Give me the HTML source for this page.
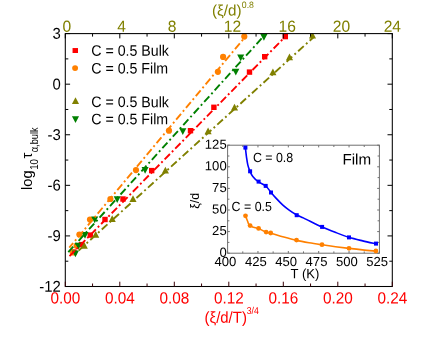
<!DOCTYPE html>
<html lang="en"><head><meta charset="utf-8"><title>Plot</title>
<style>html,body{margin:0;padding:0;background:#fff}body{width:436px;height:337px;overflow:hidden}svg{will-change:transform}svg text{white-space:pre}</style>
</head><body>
<svg width="436" height="337" viewBox="0 0 436 337" style="display:block">
<rect width="436" height="337" fill="#fff"/>
<clipPath id="pc"><rect x="65.3" y="33.6" width="327.0" height="252.9"/></clipPath><g clip-path="url(#pc)">
<rect x="282.6" y="33.9" width="5.4" height="5.4" fill="#ff0000"/>
<rect x="262.0" y="54.0" width="5.4" height="5.4" fill="#ff0000"/>
<rect x="246.8" y="69.4" width="5.4" height="5.4" fill="#ff0000"/>
<rect x="211.2" y="104.6" width="5.4" height="5.4" fill="#ff0000"/>
<rect x="187.8" y="128.0" width="5.4" height="5.4" fill="#ff0000"/>
<rect x="149.0" y="167.9" width="5.4" height="5.4" fill="#ff0000"/>
<rect x="120.3" y="196.3" width="5.4" height="5.4" fill="#ff0000"/>
<rect x="102.3" y="216.8" width="5.4" height="5.4" fill="#ff0000"/>
<rect x="87.6" y="232.4" width="5.4" height="5.4" fill="#ff0000"/>
<rect x="78.7" y="241.9" width="5.4" height="5.4" fill="#ff0000"/>
<rect x="71.3" y="249.3" width="5.4" height="5.4" fill="#ff0000"/>
<circle cx="244.3" cy="36.6" r="3.1" fill="#ff8000"/>
<circle cx="223.1" cy="56.9" r="3.1" fill="#ff8000"/>
<circle cx="217.9" cy="71.8" r="3.1" fill="#ff8000"/>
<circle cx="169" cy="130.7" r="3.1" fill="#ff8000"/>
<circle cx="136" cy="170.1" r="3.1" fill="#ff8000"/>
<circle cx="110.4" cy="199" r="3.1" fill="#ff8000"/>
<circle cx="90.0" cy="219.5" r="3.1" fill="#ff8000"/>
<circle cx="79.4" cy="234.5" r="3.1" fill="#ff8000"/>
<circle cx="76.6" cy="245.8" r="3.1" fill="#ff8000"/>
<circle cx="72.8" cy="252.5" r="3.1" fill="#ff8000"/>
<path d="M308.95 38.58L316.05 38.58L312.50 31.87Z" fill="#808000"/>
<path d="M285.95 60.18L293.05 60.18L289.50 53.47Z" fill="#808000"/>
<path d="M269.35 75.28L276.45 75.28L272.90 68.57Z" fill="#808000"/>
<path d="M230.95 110.58L238.05 110.58L234.50 103.87Z" fill="#808000"/>
<path d="M204.55 134.28L211.65 134.28L208.10 127.57Z" fill="#808000"/>
<path d="M161.85 173.58L168.95 173.58L165.40 166.87Z" fill="#808000"/>
<path d="M129.45 201.98L136.55 201.98L133.00 195.27Z" fill="#808000"/>
<path d="M108.65 221.98L115.75 221.98L112.20 215.27Z" fill="#808000"/>
<path d="M92.15 237.68L99.25 237.68L95.70 230.97Z" fill="#808000"/>
<path d="M80.75 248.78L87.85 248.78L84.30 242.07Z" fill="#808000"/>
<path d="M260.35 34.12L267.45 34.12L263.90 40.83Z" fill="#008000"/>
<path d="M237.15 54.52L244.25 54.52L240.70 61.23Z" fill="#008000"/>
<path d="M232.25 68.82L239.35 68.82L235.80 75.53Z" fill="#008000"/>
<path d="M179.25 128.32L186.35 128.32L182.80 135.03Z" fill="#008000"/>
<path d="M141.55 167.12L148.65 167.12L145.10 173.83Z" fill="#008000"/>
<path d="M113.65 196.32L120.75 196.32L117.20 203.03Z" fill="#008000"/>
<path d="M91.15 216.62L98.25 216.62L94.70 223.33Z" fill="#008000"/>
<path d="M81.45 232.02L88.55 232.02L85.00 238.73Z" fill="#008000"/>
<path d="M74.85 242.82L81.95 242.82L78.40 249.53Z" fill="#008000"/>
<path d="M71.85 250.52L78.95 250.52L75.40 257.23Z" fill="#008000"/>
<line x1="69.50" y1="256.20" x2="214.73" y2="108.41" stroke="#ff0000" stroke-width="1.9" stroke-dasharray="7.6 2.800 1.9 2.800" stroke-dashoffset="0.20"/>
<line x1="214.73" y1="108.41" x2="285.30" y2="36.60" stroke="#ff0000" stroke-width="1.9" stroke-dasharray="7.6 2.800 1.9 2.800" stroke-dashoffset="6.55"/>
<line x1="69.30" y1="247.60" x2="245.50" y2="36.60" stroke="#ff8000" stroke-width="1.9" stroke-dasharray="7.6 2.900 1.9 2.900" stroke-dashoffset="1.60"/>
<line x1="78.70" y1="250.50" x2="313.50" y2="37.30" stroke="#808000" stroke-width="1.9" stroke-dasharray="7.6 3.050 1.9 3.050" stroke-dashoffset="0.00"/>
<line x1="68.30" y1="252.20" x2="263.30" y2="36.60" stroke="#008000" stroke-width="1.9" stroke-dasharray="7.6 3.050 1.9 3.050" stroke-dashoffset="0.20"/>
</g>
<rect x="65.3" y="33.6" width="327.0" height="252.9" fill="none" stroke="#000" stroke-width="1.05"/>
<path d="M65.30 33.6v4.8 M92.55 33.6v3 M119.80 33.6v4.8 M147.05 33.6v3 M174.30 33.6v4.8 M201.55 33.6v3 M228.80 33.6v4.8 M256.05 33.6v3 M283.30 33.6v4.8 M310.55 33.6v3 M337.80 33.6v4.8 M365.05 33.6v3 M392.30 33.6v4.8 M65.3 33.60h4.8 M392.3 33.60h-4.8 M65.3 58.89h3 M392.3 58.89h-3 M65.3 84.18h4.8 M392.3 84.18h-4.8 M65.3 109.47h3 M392.3 109.47h-3 M65.3 134.76h4.8 M392.3 134.76h-4.8 M65.3 160.05h3 M392.3 160.05h-3 M65.3 185.34h4.8 M392.3 185.34h-4.8 M65.3 210.63h3 M392.3 210.63h-3 M65.3 235.92h4.8 M392.3 235.92h-4.8 M65.3 261.21h3 M392.3 261.21h-3 M65.3 286.50h4.8 M392.3 286.50h-4.8" stroke="#000" stroke-width="1.0" fill="none"/>
<path d="M65.30 286.5v-4.8 M92.55 286.5v-3 M119.80 286.5v-4.8 M147.05 286.5v-3 M174.30 286.5v-4.8 M201.55 286.5v-3 M228.80 286.5v-4.8 M256.05 286.5v-3 M283.30 286.5v-4.8 M310.55 286.5v-3 M337.80 286.5v-4.8 M365.05 286.5v-3 M392.30 286.5v-4.8" stroke="#3a0006" stroke-width="1.0" fill="none"/>
<text transform="translate(65.3,303.6) rotate(0.03) scale(0.94,1)" font-family='"Liberation Sans", Arial, sans-serif' font-size="16.3" fill="#ff0000" text-anchor="middle">0.00</text>
<text transform="translate(66.9,31.8) rotate(0.03) scale(0.975,1)" font-family='"Liberation Sans", Arial, sans-serif' font-size="16.0" fill="#808000" text-anchor="middle">0</text>
<text transform="translate(119.8,303.6) rotate(0.03) scale(0.94,1)" font-family='"Liberation Sans", Arial, sans-serif' font-size="16.3" fill="#ff0000" text-anchor="middle">0.04</text>
<text transform="translate(121.5,31.8) rotate(0.03) scale(0.975,1)" font-family='"Liberation Sans", Arial, sans-serif' font-size="16.0" fill="#808000" text-anchor="middle">4</text>
<text transform="translate(174.3,303.6) rotate(0.03) scale(0.94,1)" font-family='"Liberation Sans", Arial, sans-serif' font-size="16.3" fill="#ff0000" text-anchor="middle">0.08</text>
<text transform="translate(172.2,31.8) rotate(0.03) scale(0.975,1)" font-family='"Liberation Sans", Arial, sans-serif' font-size="16.0" fill="#808000" text-anchor="middle">8</text>
<text transform="translate(228.8,303.6) rotate(0.03) scale(0.94,1)" font-family='"Liberation Sans", Arial, sans-serif' font-size="16.3" fill="#ff0000" text-anchor="middle">0.12</text>
<text transform="translate(232.4,31.8) rotate(0.03) scale(0.975,1)" font-family='"Liberation Sans", Arial, sans-serif' font-size="16.0" fill="#808000" text-anchor="middle">12</text>
<text transform="translate(283.3,303.6) rotate(0.03) scale(0.94,1)" font-family='"Liberation Sans", Arial, sans-serif' font-size="16.3" fill="#ff0000" text-anchor="middle">0.16</text>
<text transform="translate(287.2,31.8) rotate(0.03) scale(0.975,1)" font-family='"Liberation Sans", Arial, sans-serif' font-size="16.0" fill="#808000" text-anchor="middle">16</text>
<text transform="translate(337.8,303.6) rotate(0.03) scale(0.94,1)" font-family='"Liberation Sans", Arial, sans-serif' font-size="16.3" fill="#ff0000" text-anchor="middle">0.20</text>
<text transform="translate(341.5,31.8) rotate(0.03) scale(0.975,1)" font-family='"Liberation Sans", Arial, sans-serif' font-size="16.0" fill="#808000" text-anchor="middle">20</text>
<text transform="translate(392.3,303.6) rotate(0.03) scale(0.94,1)" font-family='"Liberation Sans", Arial, sans-serif' font-size="16.3" fill="#ff0000" text-anchor="middle">0.24</text>
<text transform="translate(392.3,31.8) rotate(0.03) scale(0.975,1)" font-family='"Liberation Sans", Arial, sans-serif' font-size="16.0" fill="#808000" text-anchor="middle">24</text>
<text transform="translate(60.8,38.8) rotate(0.03) scale(0.95,1)" font-family='"Liberation Sans", Arial, sans-serif' font-size="15.7" fill="#000" text-anchor="end">3</text>
<text transform="translate(60.8,89.4) rotate(0.03) scale(0.95,1)" font-family='"Liberation Sans", Arial, sans-serif' font-size="15.7" fill="#000" text-anchor="end">0</text>
<text transform="translate(60.8,140.0) rotate(0.03) scale(0.95,1)" font-family='"Liberation Sans", Arial, sans-serif' font-size="15.7" fill="#000" text-anchor="end">-3</text>
<text transform="translate(60.8,190.5) rotate(0.03) scale(0.95,1)" font-family='"Liberation Sans", Arial, sans-serif' font-size="15.7" fill="#000" text-anchor="end">-6</text>
<text transform="translate(60.8,241.1) rotate(0.03) scale(0.95,1)" font-family='"Liberation Sans", Arial, sans-serif' font-size="15.7" fill="#000" text-anchor="end">-9</text>
<text transform="translate(60.8,291.7) rotate(0.03) scale(0.95,1)" font-family='"Liberation Sans", Arial, sans-serif' font-size="15.7" fill="#000" text-anchor="end">-12</text>
<text transform="translate(204.5,322.7) rotate(0.03) scale(0.94,1)" font-family='"Liberation Sans", Arial, sans-serif' font-size="15.9" fill="#ff0000" text-anchor="start">(ξ/d/T)</text>
<text transform="translate(246.7,314.4) rotate(0.03) scale(0.87,1)" font-family='"Liberation Sans", Arial, sans-serif' font-size="10.0" fill="#ff0000" text-anchor="start">3/4</text>
<text transform="translate(212.0,15.5) rotate(0.03) scale(1.0,1)" font-family='"Liberation Sans", Arial, sans-serif' font-size="15.2" fill="#808000" text-anchor="start">(ξ/d)</text>
<text transform="translate(241.8,7.9) rotate(0.03) scale(0.94,1)" font-family='"Liberation Sans", Arial, sans-serif' font-size="9.3" fill="#808000" text-anchor="start">0.8</text>
<g transform="translate(32.1,0) rotate(-90)" font-family='"Liberation Sans", Arial, sans-serif' fill="#000"><text x="-189.9" y="0" font-size="14.6">log</text><text transform="translate(-169.8,5.7) scale(0.95,1)" font-size="10.2">10</text><text x="-158.4" y="0" font-size="14.6">τ</text><text transform="translate(-152.2,5.7) scale(0.92,1)" font-size="10">α,bulk</text></g>
<rect x="72.55" y="48.05" width="5.45" height="4.95" fill="#ff0000"/>
<circle cx="75.1" cy="68.1" r="2.95" fill="#ff8000"/>
<path d="M71.95 103.88L79.05 103.88L75.50 97.17Z" fill="#808000"/>
<path d="M71.95 116.22L79.05 116.22L75.50 122.93Z" fill="#008000"/>
<text transform="translate(91.2,55.800000000000004) rotate(0.03) scale(0.935,1)" font-family='"Liberation Sans", Arial, sans-serif' font-size="15.2" fill="#000" text-anchor="start">C = 0.5 Bulk</text>
<text transform="translate(91.2,73.5) rotate(0.03) scale(0.935,1)" font-family='"Liberation Sans", Arial, sans-serif' font-size="15.2" fill="#000" text-anchor="start">C = 0.5 Film</text>
<text transform="translate(91.2,107.1) rotate(0.03) scale(0.935,1)" font-family='"Liberation Sans", Arial, sans-serif' font-size="15.2" fill="#000" text-anchor="start">C = 0.5 Bulk</text>
<text transform="translate(91.2,124.3) rotate(0.03) scale(0.935,1)" font-family='"Liberation Sans", Arial, sans-serif' font-size="15.2" fill="#000" text-anchor="start">C = 0.5 Film</text>
<rect x="227.6" y="145.2" width="151.79999999999998" height="108.0" fill="#fff" stroke="#707070" stroke-width="1"/>
<path d="M227.60 253.2v-2.2 M227.60 145.2v2.2 M242.78 253.2v-1.8 M242.78 145.2v1.8 M257.96 253.2v-2.2 M257.96 145.2v2.2 M273.14 253.2v-1.8 M273.14 145.2v1.8 M288.32 253.2v-2.2 M288.32 145.2v2.2 M303.50 253.2v-1.8 M303.50 145.2v1.8 M318.68 253.2v-2.2 M318.68 145.2v2.2 M333.86 253.2v-1.8 M333.86 145.2v1.8 M349.04 253.2v-2.2 M349.04 145.2v2.2 M364.22 253.2v-1.8 M364.22 145.2v1.8 M379.40 253.2v-2.2 M379.40 145.2v2.2 M227.6 253.20h2.2 M379.4 253.20h-2.2 M227.6 242.40h1.8 M379.4 242.40h-1.8 M227.6 231.60h2.2 M379.4 231.60h-2.2 M227.6 220.80h1.8 M379.4 220.80h-1.8 M227.6 210.00h2.2 M379.4 210.00h-2.2 M227.6 199.20h1.8 M379.4 199.20h-1.8 M227.6 188.40h2.2 M379.4 188.40h-2.2 M227.6 177.60h1.8 M379.4 177.60h-1.8 M227.6 166.80h2.2 M379.4 166.80h-2.2 M227.6 156.00h1.8 M379.4 156.00h-1.8 M227.6 145.20h2.2 M379.4 145.20h-2.2" stroke="#707070" stroke-width="1" fill="none"/>
<text transform="translate(225.4,266.0) rotate(0.03) scale(1.0,1)" font-family='"Liberation Sans", Arial, sans-serif' font-size="13.1" fill="#000" text-anchor="middle">400</text>
<text transform="translate(226.7,256.7) rotate(0.03) scale(1.0,1)" font-family='"Liberation Sans", Arial, sans-serif' font-size="13.1" fill="#000" text-anchor="end">0</text>
<text transform="translate(255.8,266.0) rotate(0.03) scale(1.0,1)" font-family='"Liberation Sans", Arial, sans-serif' font-size="13.1" fill="#000" text-anchor="middle">425</text>
<text transform="translate(226.7,235.1) rotate(0.03) scale(1.0,1)" font-family='"Liberation Sans", Arial, sans-serif' font-size="13.1" fill="#000" text-anchor="end">25</text>
<text transform="translate(286.1,266.0) rotate(0.03) scale(1.0,1)" font-family='"Liberation Sans", Arial, sans-serif' font-size="13.1" fill="#000" text-anchor="middle">450</text>
<text transform="translate(226.7,213.5) rotate(0.03) scale(1.0,1)" font-family='"Liberation Sans", Arial, sans-serif' font-size="13.1" fill="#000" text-anchor="end">50</text>
<text transform="translate(316.5,266.0) rotate(0.03) scale(1.0,1)" font-family='"Liberation Sans", Arial, sans-serif' font-size="13.1" fill="#000" text-anchor="middle">475</text>
<text transform="translate(226.7,191.9) rotate(0.03) scale(1.0,1)" font-family='"Liberation Sans", Arial, sans-serif' font-size="13.1" fill="#000" text-anchor="end">75</text>
<text transform="translate(346.8,266.0) rotate(0.03) scale(1.0,1)" font-family='"Liberation Sans", Arial, sans-serif' font-size="13.1" fill="#000" text-anchor="middle">500</text>
<text transform="translate(226.7,170.3) rotate(0.03) scale(1.0,1)" font-family='"Liberation Sans", Arial, sans-serif' font-size="13.1" fill="#000" text-anchor="end">100</text>
<text transform="translate(377.2,266.0) rotate(0.03) scale(1.0,1)" font-family='"Liberation Sans", Arial, sans-serif' font-size="13.1" fill="#000" text-anchor="middle">525</text>
<text transform="translate(226.7,148.7) rotate(0.03) scale(1.0,1)" font-family='"Liberation Sans", Arial, sans-serif' font-size="13.1" fill="#000" text-anchor="end">125</text>
<path d="M245.3 147.1 C245.52 148.88 246.18 154.83 246.6 157.8 C247.02 160.77 247.30 162.82 247.8 164.9 C248.30 166.98 248.77 168.37 249.6 170.3 C250.43 172.23 251.32 174.57 252.8 176.5 C254.28 178.43 256.33 180.32 258.5 181.9 C260.67 183.48 263.72 184.25 265.8 186.0 C267.88 187.75 269.34 190.42 271.0 192.4 C272.66 194.38 273.82 195.83 275.75 197.9 C277.68 199.97 280.31 202.73 282.6 204.8 C284.89 206.87 287.20 208.65 289.5 210.3 C291.80 211.95 294.10 213.43 296.4 214.7 C298.70 215.97 301.02 216.80 303.3 217.9 C305.58 219.00 306.98 219.78 310.1 221.3 C313.22 222.82 317.82 225.17 322.0 227.0 C326.18 228.83 330.70 230.58 335.2 232.3 C339.70 234.02 344.42 235.87 349.0 237.3 C353.58 238.73 358.22 239.80 362.7 240.9 C367.18 242.00 373.70 243.40 375.9 243.9" fill="none" stroke="#0000ff" stroke-width="1.6" stroke-linejoin="round"/>
<path d="M245.5 215.8 C245.83 216.67 246.85 219.43 247.5 221.0 C248.15 222.57 248.40 224.17 249.4 225.2 C250.40 226.23 251.97 226.63 253.5 227.2 C255.03 227.77 256.50 227.78 258.6 228.6 C260.70 229.42 264.08 231.33 266.1 232.1 C268.12 232.87 267.75 232.37 270.7 233.2 C273.65 234.03 279.52 235.90 283.8 237.1 C288.08 238.30 292.20 239.45 296.4 240.4 C300.60 241.35 304.73 242.07 309 242.8 C313.27 243.53 317.58 244.15 322 244.8 C326.42 245.45 331.00 246.10 335.5 246.7 C340.00 247.30 344.50 247.87 349 248.4 C353.50 248.93 358.02 249.45 362.5 249.9 C366.98 250.35 373.67 250.90 375.9 251.1" fill="none" stroke="#ff8000" stroke-width="1.6" stroke-linejoin="round"/>
<rect x="243.4" y="145.6" width="4.0" height="4.0" fill="#0000ff"/>
<rect x="248.1" y="169.3" width="4.0" height="4.0" fill="#0000ff"/>
<rect x="256.6" y="179.6" width="4.0" height="4.0" fill="#0000ff"/>
<rect x="263.7" y="183.9" width="4.0" height="4.0" fill="#0000ff"/>
<rect x="269.0" y="190.5" width="4.0" height="4.0" fill="#0000ff"/>
<rect x="294.7" y="213.2" width="4.0" height="4.0" fill="#0000ff"/>
<rect x="320.1" y="224.9" width="4.0" height="4.0" fill="#0000ff"/>
<rect x="347.0" y="235.4" width="4.0" height="4.0" fill="#0000ff"/>
<rect x="374.0" y="241.6" width="4.0" height="4.0" fill="#0000ff"/>
<circle cx="245.5" cy="215.8" r="2.4" fill="#ff8000"/>
<circle cx="250.1" cy="225.6" r="2.4" fill="#ff8000"/>
<circle cx="258.6" cy="228.4" r="2.4" fill="#ff8000"/>
<circle cx="266.1" cy="232.1" r="2.4" fill="#ff8000"/>
<circle cx="270.7" cy="233" r="2.4" fill="#ff8000"/>
<circle cx="296.5" cy="240.1" r="2.4" fill="#ff8000"/>
<circle cx="322" cy="244.7" r="2.4" fill="#ff8000"/>
<circle cx="349" cy="248.3" r="2.4" fill="#ff8000"/>
<circle cx="375.9" cy="251.0" r="2.4" fill="#ff8000"/>
<text transform="translate(252.9,161.9) rotate(0.03) scale(0.94,1)" font-family='"Liberation Sans", Arial, sans-serif' font-size="13.2" fill="#000" text-anchor="start">C = 0.8</text>
<text transform="translate(231.6,210.9) rotate(0.03) scale(0.94,1)" font-family='"Liberation Sans", Arial, sans-serif' font-size="13.2" fill="#000" text-anchor="start">C = 0.5</text>
<text transform="translate(342.4,164.4) rotate(0.03) scale(1.0,1)" font-family='"Liberation Sans", Arial, sans-serif' font-size="15.2" fill="#000" text-anchor="start">Film</text>
<text transform="translate(305,278.3) rotate(0.03) scale(0.96,1)" font-family='"Liberation Sans", Arial, sans-serif' font-size="13.6" fill="#000" text-anchor="middle">T (K)</text>
<text transform="translate(198.5,208.7) rotate(-90)" font-family='"Liberation Sans", Arial, sans-serif' font-size="12.4" fill="#000">ξ/d</text>
</svg>
</body></html>
